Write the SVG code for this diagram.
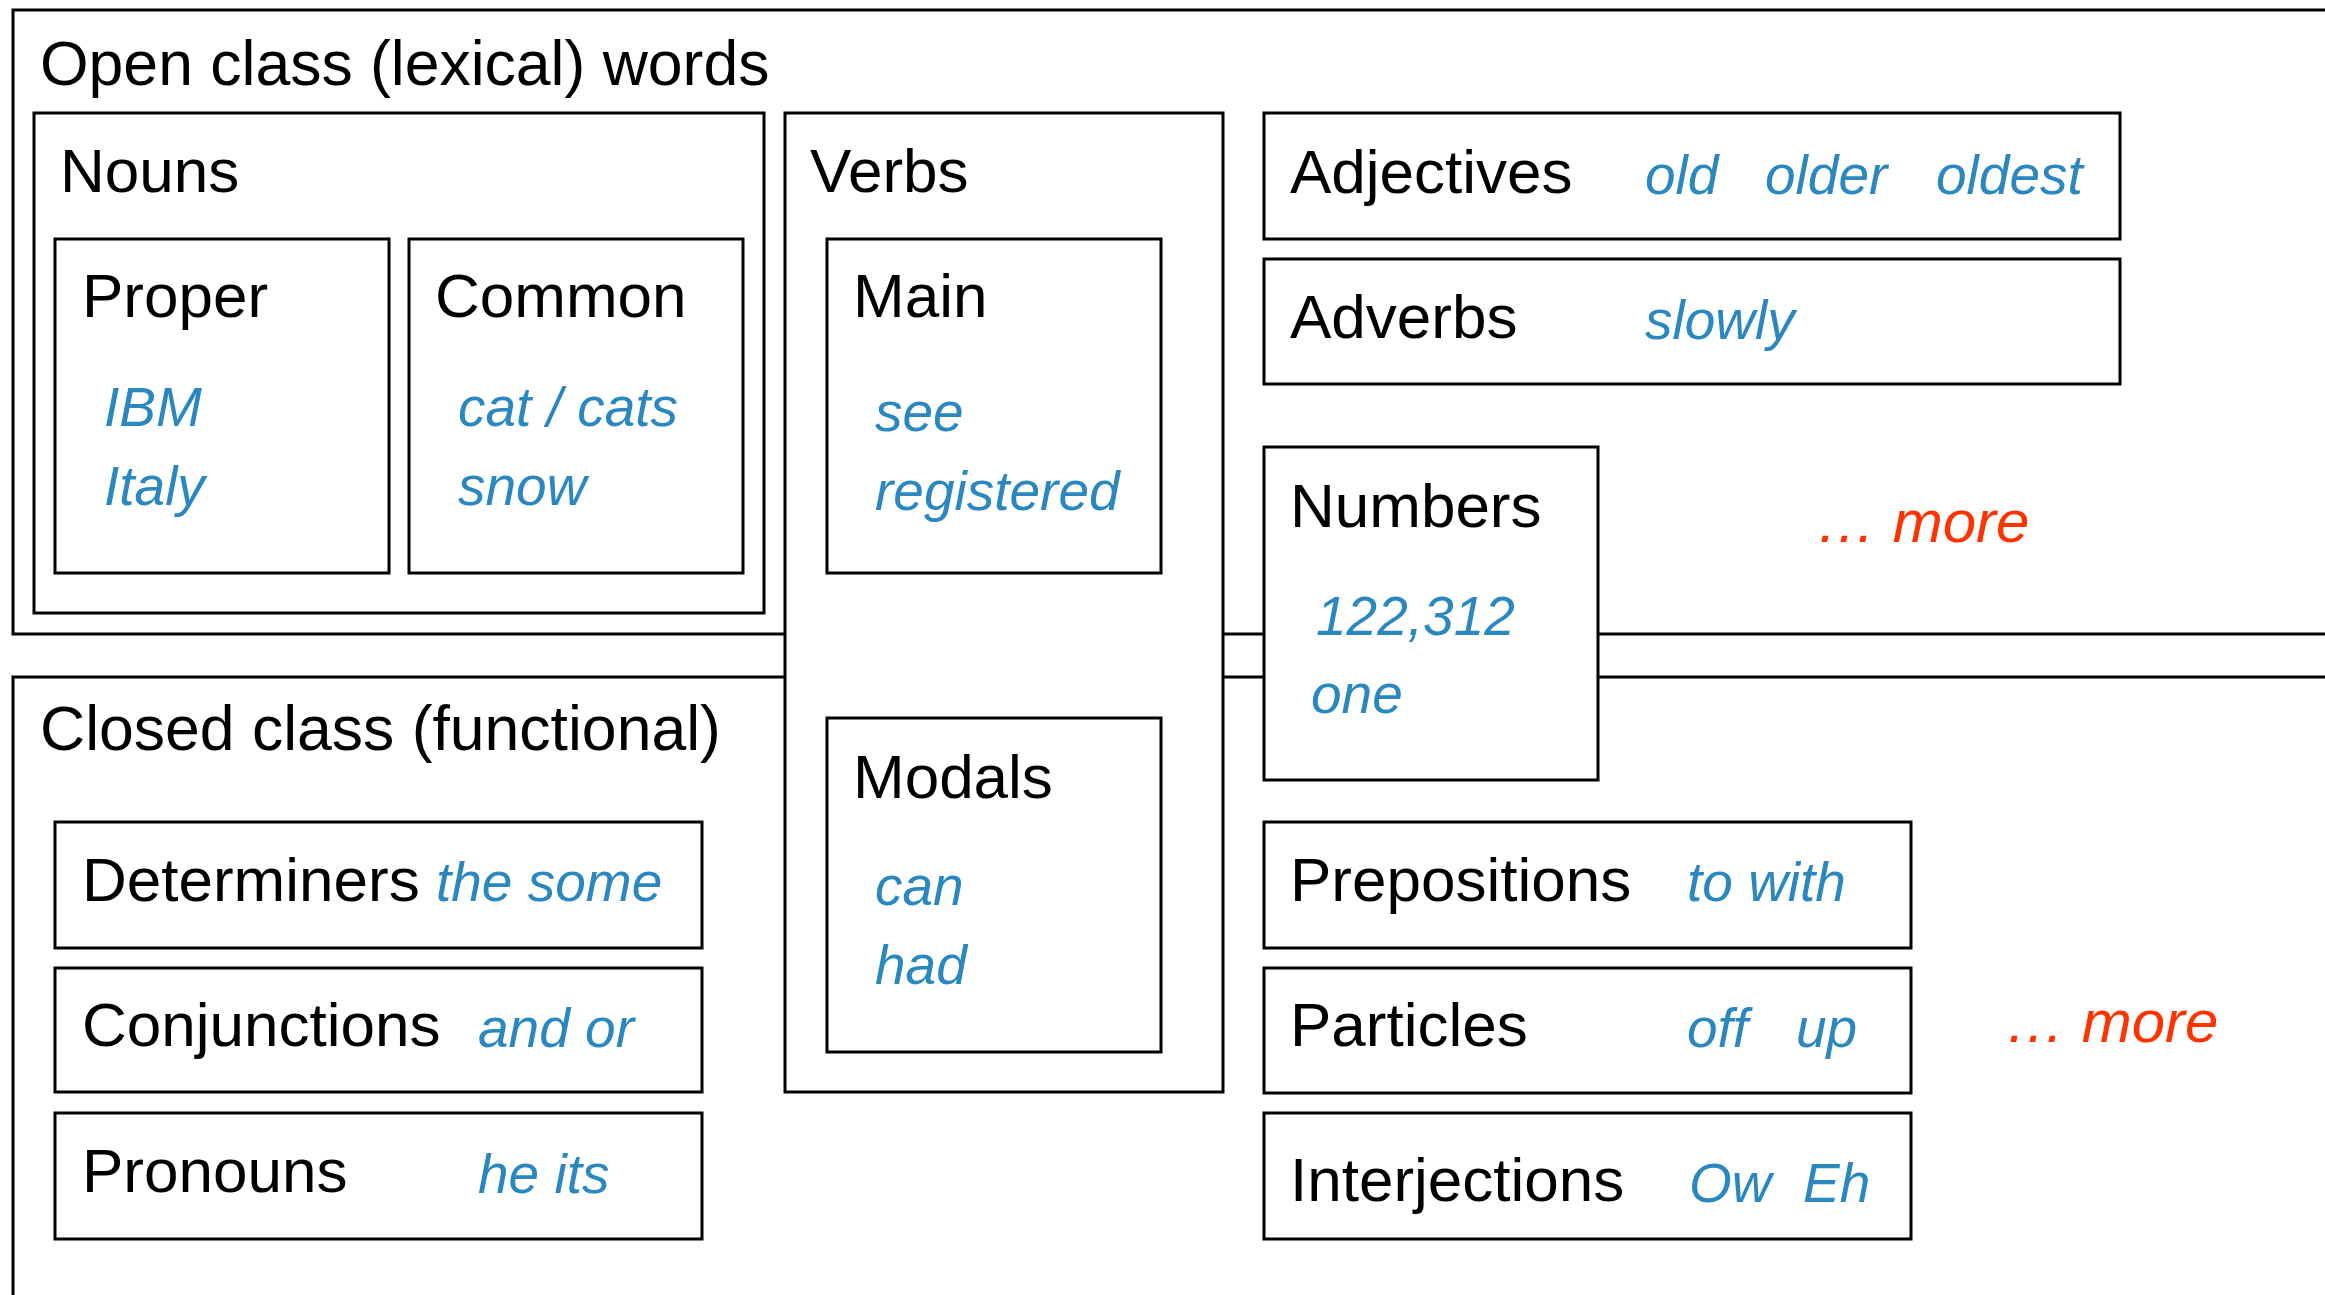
<svg xmlns="http://www.w3.org/2000/svg" width="2325" height="1295" viewBox="0 0 2325 1295">
<style>
.box{fill:#fff;stroke:#000;stroke-width:3}
.frame{fill:none;stroke:#000;stroke-width:3}
.t{font-family:"Liberation Sans",Arial,sans-serif;font-size:62px;fill:#000}
.h{font-family:"Liberation Sans",Arial,sans-serif;font-size:62.5px;fill:#000}
.ex{font-family:"Liberation Sans",Arial,sans-serif;font-size:55px;font-style:italic;fill:#2b87c0}
.more{font-family:"Liberation Sans",Arial,sans-serif;font-size:60px;font-style:italic;fill:#ff3300}
</style>
<rect width="2325" height="1295" fill="#fff"/>
<g id="open-class">
<rect class="frame" x="13" y="10" width="2340" height="624"/>
<text class="h" x="40" y="85">Open class (lexical) words</text>
</g>
<g id="closed-class">
<rect class="frame" x="13" y="677" width="2340" height="700"/>
<text class="h" x="40" y="750">Closed class (functional)</text>
</g>
<g id="nouns">
<rect class="box" x="34" y="113" width="730" height="500"/>
<text class="t" x="60" y="192">Nouns</text>
</g>
<g id="proper">
<rect class="box" x="55" y="239" width="334" height="334"/>
<text class="t" x="82" y="317">Proper</text>
<text class="ex" x="104" y="426">IBM</text>
<text class="ex" x="104" y="505">Italy</text>
</g>
<g id="common">
<rect class="box" x="409" y="239" width="334" height="334"/>
<text class="t" x="435" y="317">Common</text>
<text class="ex" x="458" y="426">cat / cats</text>
<text class="ex" x="458" y="505">snow</text>
</g>
<g id="verbs">
<rect class="box" x="785" y="113" width="438" height="979"/>
<text class="t" x="810" y="192">Verbs</text>
</g>
<g id="main">
<rect class="box" x="827" y="239" width="334" height="334"/>
<text class="t" x="853" y="317">Main</text>
<text class="ex" x="875" y="431">see</text>
<text class="ex" x="875" y="510">registered</text>
</g>
<g id="modals">
<rect class="box" x="827" y="718" width="334" height="334"/>
<text class="t" x="853" y="798">Modals</text>
<text class="ex" x="875" y="905">can</text>
<text class="ex" x="875" y="984">had</text>
</g>
<g id="adjectives">
<rect class="box" x="1264" y="113" width="856" height="126"/>
<text class="t" x="1290" y="193">Adjectives</text>
<text class="ex" x="1645" y="194">old</text>
<text class="ex" x="1765" y="194">older</text>
<text class="ex" x="1936" y="194">oldest</text>
</g>
<g id="adverbs">
<rect class="box" x="1264" y="259" width="856" height="125"/>
<text class="t" x="1290" y="338">Adverbs</text>
<text class="ex" x="1645" y="339">slowly</text>
</g>
<g id="numbers">
<rect class="box" x="1264" y="447" width="334" height="333"/>
<text class="t" x="1290" y="527">Numbers</text>
<text class="ex" x="1316" y="635">122,312</text>
<text class="ex" x="1311" y="713">one</text>
</g>
<g id="more-open">
<text class="more" x="1816" y="542">… more</text>
</g>
<g id="determiners">
<rect class="box" x="55" y="822" width="647" height="126"/>
<text class="t" x="82" y="901">Determiners</text>
<text class="ex" x="436" y="901">the some</text>
</g>
<g id="conjunctions">
<rect class="box" x="55" y="968" width="647" height="124"/>
<text class="t" x="82" y="1046">Conjunctions</text>
<text class="ex" x="478" y="1047">and or</text>
</g>
<g id="pronouns">
<rect class="box" x="55" y="1113" width="647" height="126"/>
<text class="t" x="82" y="1192">Pronouns</text>
<text class="ex" x="478" y="1193">he its</text>
</g>
<g id="prepositions">
<rect class="box" x="1264" y="822" width="647" height="126"/>
<text class="t" x="1290" y="901">Prepositions</text>
<text class="ex" x="1687" y="901">to with</text>
</g>
<g id="particles">
<rect class="box" x="1264" y="968" width="647" height="125"/>
<text class="t" x="1290" y="1046">Particles</text>
<text class="ex" x="1687" y="1047">off</text>
<text class="ex" x="1796" y="1047">up</text>
</g>
<g id="interjections">
<rect class="box" x="1264" y="1113" width="647" height="126"/>
<text class="t" x="1290" y="1201">Interjections</text>
<text class="ex" x="1689" y="1202">Ow</text>
<text class="ex" x="1803" y="1202">Eh</text>
</g>
<g id="more-closed">
<text class="more" x="2005" y="1042">… more</text>
</g>
<g id="connectors"></g>
</svg>
